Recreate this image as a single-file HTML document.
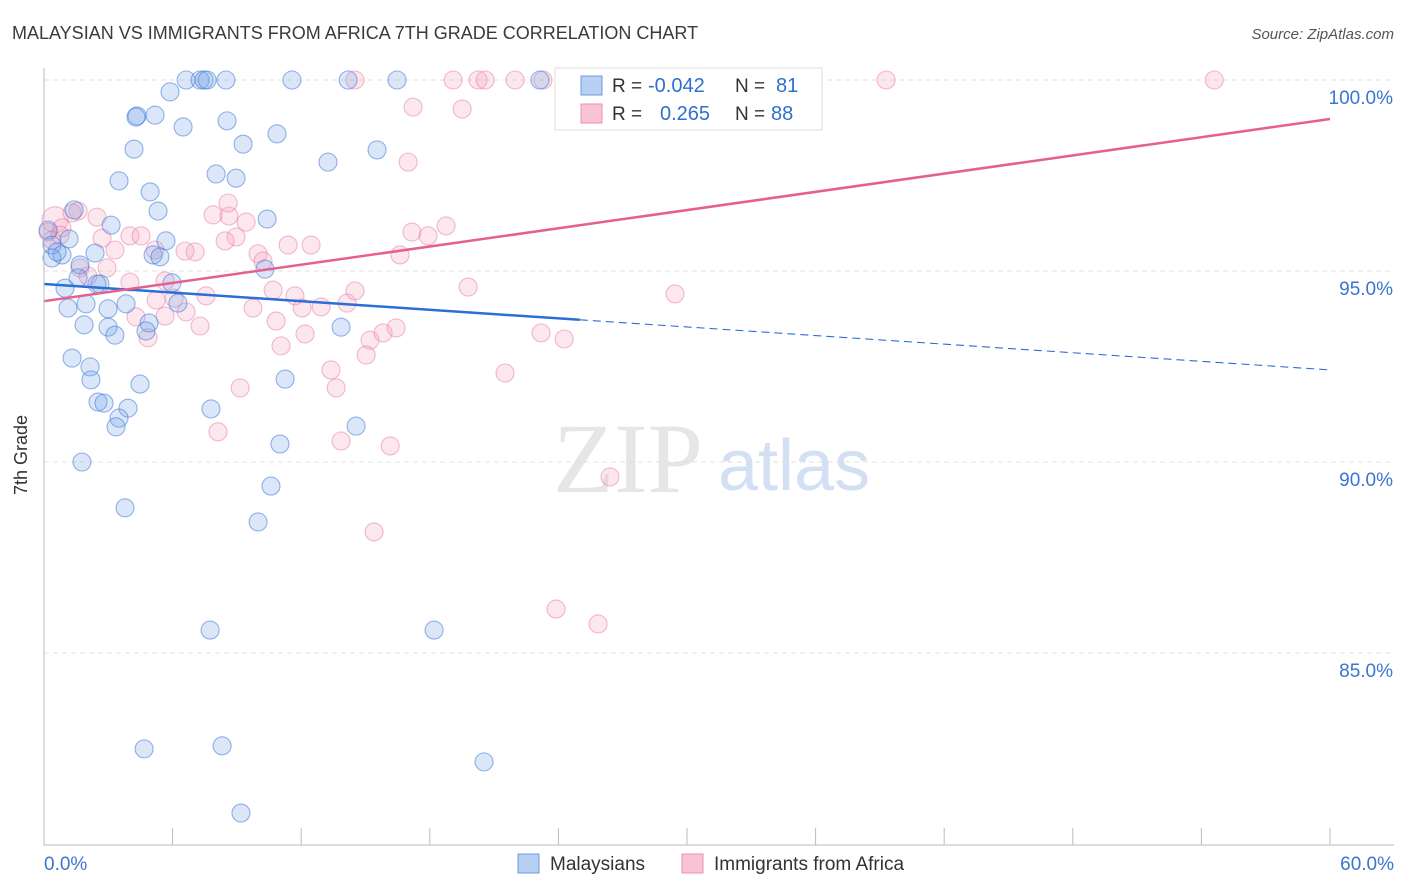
<!DOCTYPE html>
<html><head><meta charset="utf-8"><style>
body{margin:0;background:#fff;font-family:"Liberation Sans",sans-serif;}
#wrap{position:relative;width:1406px;height:892px;overflow:hidden;}
</style></head><body><div id="wrap">
<svg id="chart" width="1406" height="892" font-family="Liberation Sans, sans-serif">
<text x="12" y="39" font-size="18" fill="#3a3a3a">MALAYSIAN VS IMMIGRANTS FROM AFRICA 7TH GRADE CORRELATION CHART</text>
<text x="1394" y="39" font-size="15" fill="#555" font-style="italic" text-anchor="end">Source: ZipAtlas.com</text>
<text x="553" y="492" font-size="100" fill="#e6e6e6" style="font-family:'Liberation Serif',serif">ZIP</text>
<text x="718" y="490" font-size="72" fill="#d3e0f4">atlas</text>
<g id="grid"></g><g id="pts"></g><g id="lines"></g>
<line x1="44" y1="68" x2="44" y2="845" stroke="#bbb"/>
<line x1="44" y1="845" x2="1394" y2="845" stroke="#bbb"/>
<text x="27" y="455" font-size="18" fill="#333" text-anchor="middle" transform="rotate(-90 27 455)">7th Grade</text>
<text x="44" y="870" font-size="19" fill="#3a75d0">0.0%</text>
<text x="1394" y="870" font-size="19" fill="#3a75d0" text-anchor="end">60.0%</text>
<g>
<rect x="555" y="68" width="267" height="62" fill="#fff" stroke="#ddd"/>
<rect x="581" y="76" width="21" height="19" fill="#b8d0f4" stroke="#6a9be0"/>
<rect x="581" y="104" width="21" height="19" fill="#f8c4d4" stroke="#ee8fb0"/>
<text x="612" y="92" font-size="19" fill="#333">R =</text><text x="648" y="92" font-size="20" fill="#2f6fd0">-0.042</text>
<text x="735" y="92" font-size="19" fill="#333">N =</text><text x="776" y="92" font-size="20" fill="#2f6fd0">81</text>
<text x="612" y="120" font-size="19" fill="#333">R =</text><text x="660" y="120" font-size="20" fill="#2f6fd0">0.265</text>
<text x="735" y="120" font-size="19" fill="#333">N =</text><text x="771" y="120" font-size="20" fill="#2f6fd0">88</text>
</g>
<g><rect x="518" y="854" width="21" height="19" fill="#b8d0f4" stroke="#6a9be0"/><text x="550" y="870" font-size="19" fill="#333">Malaysians</text></g>
<g><rect x="682" y="854" width="21" height="19" fill="#f8c4d4" stroke="#ee8fb0"/><text x="714" y="870" font-size="19" fill="#333">Immigrants from Africa</text></g>
</svg></div>
<script>
const yTicks=[100,95,90,85];
const xTickVals=[0,6,12,18,24,30,36,42,48,54,60];
const blueX=[6.63,7.28,7.47,7.61,8.49,11.57,14.19,16.47,23.14,5.88,4.34,4.29,5.18,6.49,8.54,10.87,4.20,9.29,13.25,15.54,8.03,8.96,3.50,4.95,5.32,10.41,3.13,1.40,0.19,0.37,1.17,0.84,0.37,2.38,0.61,5.69,5.09,5.41,10.31,1.68,1.59,2.61,2.47,0.98,5.97,3.83,1.12,2.99,6.25,1.96,4.90,1.87,2.99,3.31,4.76,13.86,1.31,2.15,2.19,4.48,11.25,2.52,2.80,3.92,3.50,3.36,7.79,14.56,11.01,1.77,10.59,3.78,9.99,7.75,18.20,4.67,8.31,20.53,9.19];
const blueY=[100,100,100,100,100,100,100,100,100,99.69,99.06,99.03,99.08,98.77,98.93,98.59,98.19,98.32,97.85,98.17,97.54,97.43,97.36,97.07,96.57,96.36,96.20,96.60,96.07,95.68,95.84,95.42,95.34,95.47,95.50,95.79,95.42,95.37,95.05,95.16,94.82,94.66,94.66,94.55,94.69,94.14,94.03,94.01,94.16,94.14,93.64,93.59,93.53,93.32,93.43,93.53,92.72,92.49,92.15,92.04,92.17,91.57,91.54,91.41,91.15,90.92,91.39,90.94,90.47,90.00,89.37,88.80,88.43,85.60,85.60,82.49,82.57,82.15,80.81];
const pinkX=[0.51,0.19,0.84,1.59,1.31,2.47,2.71,4.01,4.53,3.31,5.18,7.05,6.58,8.63,9.43,8.96,8.45,7.89,8.59,9.99,10.22,11.39,12.46,2.94,4.01,1.68,2.05,5.65,5.23,5.65,4.29,4.85,6.07,7.56,6.63,7.28,9.75,10.69,11.71,12.04,12.93,14.14,14.51,10.83,12.18,11.06,13.39,15.21,15.82,16.43,15.03,13.63,13.86,16.15,9.15,8.12,15.40,21.51,19.79,17.17,17.92,18.76,16.61,16.99,17.22,19.51,23.19,24.27,26.41,23.89,25.85,29.44,14.51,19.09,20.25,20.58,21.98,23.28,24.96,30.94,33.41,35.84,39.29,54.60,0.37,0.75];
const pinkY=[96.34,96.02,96.13,96.57,96.52,96.41,95.86,95.92,95.92,95.55,95.55,95.50,95.52,96.44,96.28,95.89,95.79,96.47,96.78,95.45,95.26,95.68,95.68,95.08,94.71,95.08,94.87,94.74,94.24,93.82,93.80,93.25,94.29,94.35,93.93,93.56,94.03,94.50,94.35,94.03,94.06,94.16,94.48,93.69,93.35,93.04,92.41,93.19,93.38,93.51,92.80,91.94,90.55,90.42,91.94,90.79,88.17,92.33,94.58,96.02,95.92,96.18,95.42,97.85,99.29,99.24,93.38,93.22,89.61,86.15,85.76,94.40,100,100,100,100,100,100,100,100,100,100,100,100,95.81,95.94];
const blueTrend=[94.66,92.41];
const pinkTrend=[94.21,98.98];
const blueSolidEnd=25;
const NS="http://www.w3.org/2000/svg";
const sx=v=>44+v/60*1286;
const sy=v=>80+(100-v)*38.2;
function mk(t,a,p){const e=document.createElementNS(NS,t);for(const k in a)e.setAttribute(k,a[k]);p.appendChild(e);return e;}
const grid=document.getElementById('grid');
yTicks.forEach(v=>{
 const l=mk('line',{x1:44,x2:1394,y1:sy(v),y2:sy(v),stroke:'#e0e0e0','stroke-dasharray':'5,4'},grid);
 
 
 const t=mk('text',{x:1393,y:sy(v)+24,'font-size':19,fill:'#3a75d0','text-anchor':'end'},grid);
 t.textContent=v.toFixed(1)+'%';
 
 
});
xTickVals.forEach(v=>{
 const l=mk('line',{x1:sx(v),x2:sx(v),y1:828,y2:845,stroke:'#bbb'},grid);
 
 
});
const pts=document.getElementById('pts');
pinkX.forEach((x,i)=>{
 const c=mk('circle',{cx:sx(x),cy:sy(pinkY[i]),r:i===0?13:9,fill:'rgba(244,160,188,0.25)',stroke:'rgba(232,120,158,0.5)','stroke-width':1.1},pts);
 
 
});
blueX.forEach((x,i)=>{
 const c=mk('circle',{cx:sx(x),cy:sy(blueY[i]),r:9,fill:'rgba(110,160,232,0.25)',stroke:'rgba(60,120,215,0.55)','stroke-width':1.1},pts);
 
 
});
const lines=document.getElementById('lines');
const by=x=>blueTrend[0]+(blueTrend[1]-blueTrend[0])*x/60;
let l1=mk('line',{x1:sx(0),y1:sy(by(0)),x2:sx(blueSolidEnd),y2:sy(by(blueSolidEnd)),stroke:'#2a6fd6','stroke-width':2.5},lines);


let l2=mk('line',{x1:sx(blueSolidEnd),y1:sy(by(blueSolidEnd)),x2:sx(60),y2:sy(by(60)),stroke:'#2a6fd6','stroke-width':1.1,'stroke-dasharray':'8,5'},lines);


let l3=mk('line',{x1:sx(0),y1:sy(pinkTrend[0]),x2:sx(60),y2:sy(pinkTrend[1]),stroke:'#e5608c','stroke-width':2.5},lines);


</script></body></html>
